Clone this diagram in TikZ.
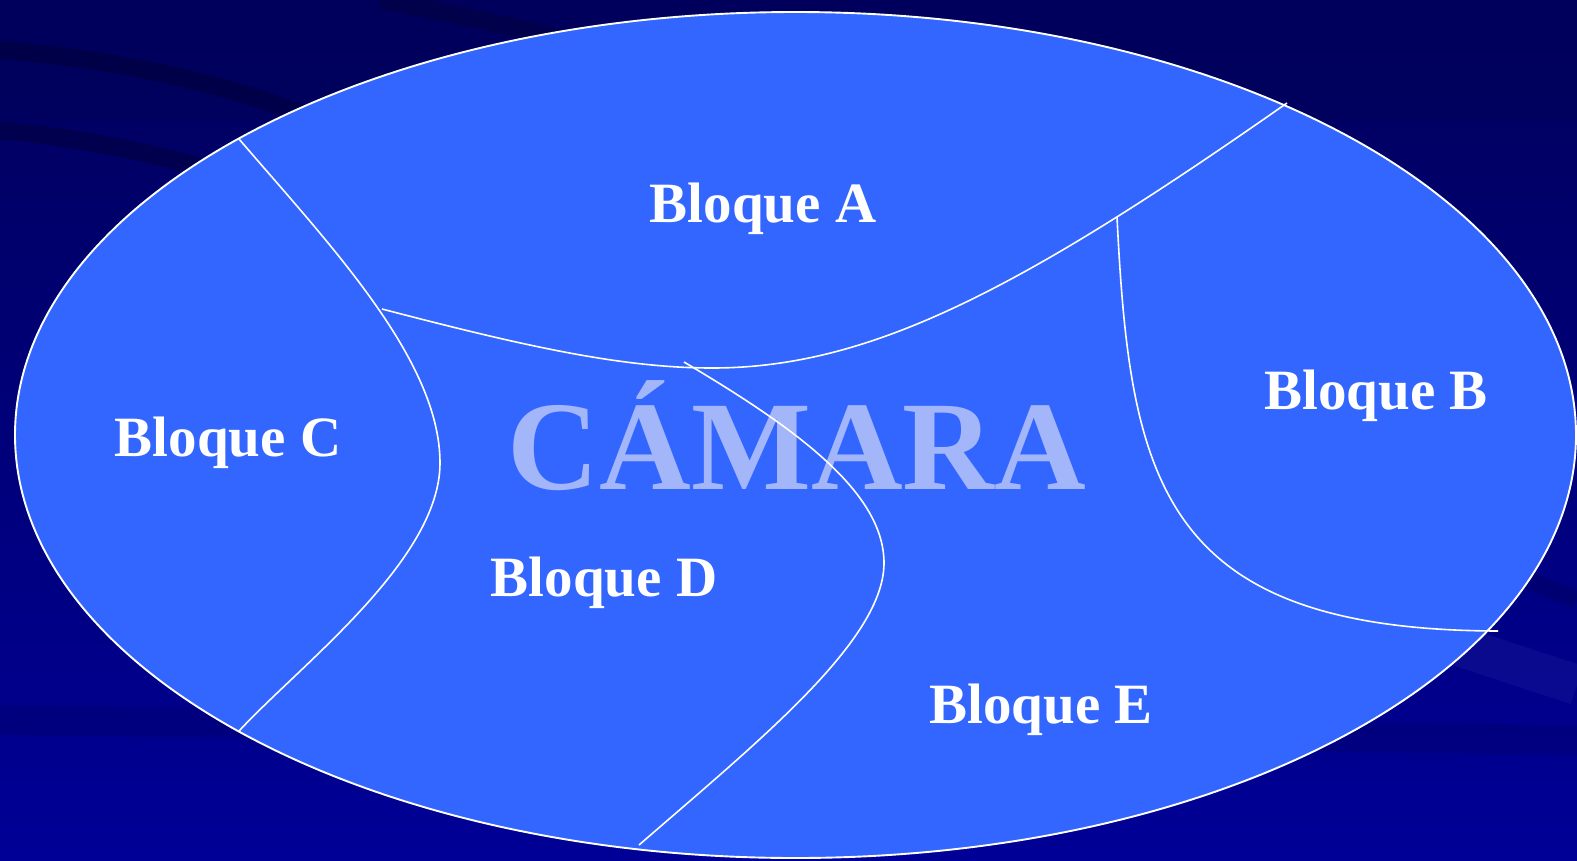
\documentclass[tikz,border=0pt]{standalone}
\usepackage{fontspec}
\setmainfont{Liberation Serif}
\begin{document}
\begin{tikzpicture}[x=1pt,y=-1pt]
\definecolor{bgtop}{HTML}{00005C}
\definecolor{bgbot}{HTML}{000096}
\definecolor{blob}{HTML}{3366FF}
\definecolor{watermark}{HTML}{A3B6FA}
\tikzset{
  border/.style={draw=white, line width=1.9pt},
  divider/.style={draw=white, line width=1.6pt},
  label/.style={text=white, font=\bfseries\fontsize{57}{60}\selectfont, inner sep=0pt},
  streak/.style={line width=18pt, opacity=0.35}
}
\useasboundingbox (0,0) rectangle (1577,860);
% background
\shade[top color=bgtop, bottom color=bgbot] (0,0) rectangle (1577,860);
\fill[bgtop, opacity=0.7] (0,0) rectangle (1577,120);
\draw[streak, color=black!60!bgtop] (0,130) .. controls (200,150) and (350,210) .. (500,300);
\draw[streak, color=black!60!bgtop] (0,50) .. controls (250,70) and (420,150) .. (560,260);
\draw[streak, color=black!50!bgtop] (380,0) .. controls (600,40) and (800,100) .. (950,170);
\draw[streak, color=bgbot!80!white, opacity=0.2, line width=40pt] (1440,640) -- (1577,685);
\draw[streak, color=black!50!bgbot, opacity=0.3] (1480,560) -- (1577,600);
\draw[streak, color=black!50!bgbot, opacity=0.2, line width=30pt] (0,720) -- (1577,740);
% camera ellipse
\path[border, fill=blob] (795.5,435) ellipse [x radius=780.5, y radius=423];
% watermark
\node[text=watermark, font=\bfseries\fontsize{127}{130}\selectfont, inner sep=0pt] (camara) at (797,436) {CÁMARA};
% dividing lines
\coordinate (cTop) at (239,139);
\coordinate (jCA) at (382,309);
\coordinate (cBot) at (239,731);
\coordinate (aRight) at (1287,103);
\coordinate (dTop) at (684,362);
\coordinate (dBot) at (639,845);
\coordinate (bTop) at (1117,217);
\coordinate (bEnd) at (1498,631);
\draw[divider] (cTop) .. controls (330,245) and (440,360) .. (440,463)
               .. controls (440,560) and (300,665) .. (cBot);
\draw[divider] (jCA) .. controls (520,345) and (620,368) .. (712,368)
               .. controls (870,368) and (1020,290) .. (aRight);
\draw[divider] (dTop) .. controls (790,425) and (884,490) .. (884,563)
               .. controls (884,640) and (760,740) .. (dBot);
\draw[divider] (bTop) .. controls (1130,480) and (1160,630) .. (bEnd);
% labels
\node[label] (a) at (763,209) {Bloque A};
\node[label] (b) at (1376,396) {Bloque B};
\node[label] (c) at (228,443) {Bloque C};
\node[label] (d) at (604,583) {Bloque D};
\node[label] (e) at (1041,710) {Bloque E};
\end{tikzpicture}
\end{document}
